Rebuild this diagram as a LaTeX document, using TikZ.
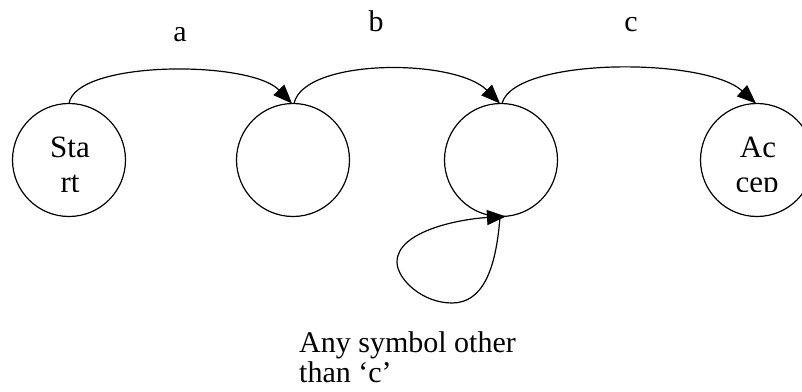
\documentclass[tikz,border=0pt]{standalone}
\usepackage{fontspec}
\setmainfont{Liberation Serif}
\usetikzlibrary{arrows.meta}
\tikzset{
  state/.style={draw, circle, line width=1.2pt, minimum size=113pt, inner sep=0pt},
  trans/.style={line width=1.2pt, -{Triangle[length=19pt,width=15pt]}},
  lbl/.style={font=\fontsize{30}{32}\selectfont, inner sep=0pt, anchor=base},
  inlbl/.style={font=\fontsize{31}{32}\selectfont, inner sep=0pt, anchor=base},
  note/.style={font=\fontsize{30}{30}\selectfont, inner sep=0pt, anchor=base west},
}
\begin{document}
\begin{tikzpicture}[x=1pt,y=1pt]
\useasboundingbox (0,0) rectangle (802,391);
\node[state] (s1) at (69,231) {};
\node[state] (s2) at (293,231) {};
\node[state] (s3) at (501,231) {};
\node[state] (s4) at (757,231) {};
% labels inside start and accept states (second line clipped)
\node[inlbl] (t1a) at (70,233) {Sta};
\node[inlbl] (t4a) at (758,233) {Ac};
\begin{scope}
\clip (0,199.8) rectangle (802,391);
\node[inlbl] (t1b) at (70,198) {rt};
\node[inlbl] (t4b) at (757,198) {cep};
\end{scope}
\coordinate (s1t) at (69,287.5);
\coordinate (s2t) at (292,287.5);
\coordinate (s2o) at (294,287.5);
\coordinate (s3t) at (500,287.5);
\coordinate (s3o) at (502,287.5);
\coordinate (s4t) at (756,287.5);
\draw[trans] (s1t) .. controls (76,331) and (250,331) .. (s2t);
\draw[trans] (s2o) .. controls (304,333) and (455,333) .. (s3t);
\draw[trans] (s3o) .. controls (514,334) and (705,334) .. (s4t);
\coordinate (s3b) at (500,174.5);
\coordinate (s3i) at (506,174.5);
\draw[trans] (s3b) .. controls (496,120) and (482,88) .. (452,88)
  .. controls (422,88) and (397,112) .. (397,129)
  .. controls (397,160) and (460,172) .. (s3i);
\node[lbl] (la) at (180,349) {a};
\node[lbl] (lb) at (376,359) {b};
\node[lbl] (lc) at (631,359) {c};
\node[note] (n1) at (299,39) {Any symbol other};
\node[note] (n2) at (299,9) {than ‘c’};
\end{tikzpicture}
\end{document}
